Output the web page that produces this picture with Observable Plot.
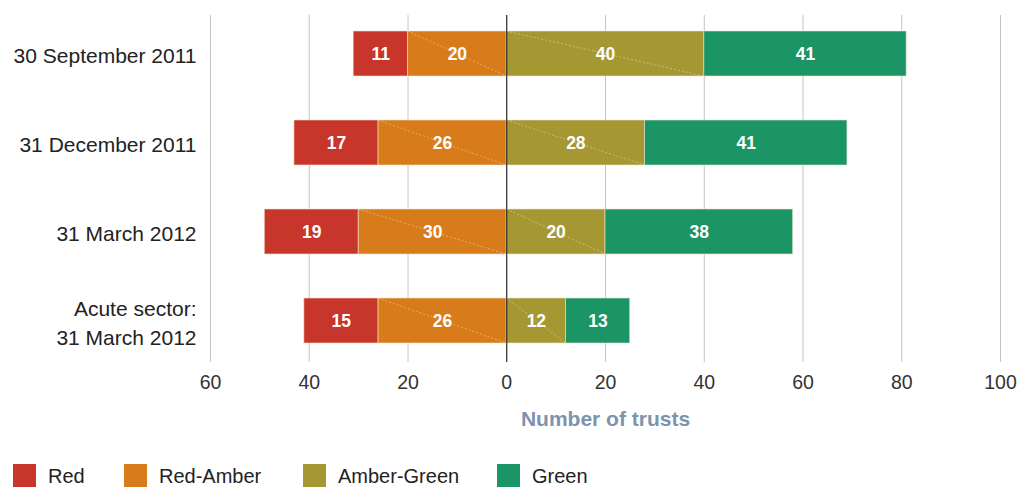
<!DOCTYPE html>
<html>
<head>
<meta charset="utf-8">
<script src="https://cdn.jsdelivr.net/npm/d3@7"></script>
<script src="https://cdn.jsdelivr.net/npm/@observablehq/plot@0.6"></script>
<style>
  html, body { margin: 0; padding: 0; background: #fff; }
  body { font-family: "Liberation Sans", Arial, sans-serif; }
  #wrap { position: relative; width: 1018px; height: 487px; overflow: hidden; }
  #chart { position: absolute; left: 0; top: 0; }
  .lg-sw { position: absolute; width: 23px; height: 23px; }
  .lg-tx { position: absolute; font-size: 20px; color: #222; line-height: 23px; white-space: nowrap; }
</style>
</head>
<body>
<div id="wrap">
  <div id="chart"></div>
  <div id="legend"></div>
</div>
<script>
const periods = ["30 September 2011", "31 December 2011", "31 March 2012", "Acute sector:\n31 March 2012"];
const statuses = ["Red", "Red-Amber", "Amber-Green", "Green"];
const colors = ["#c8352b", "#d77b1b", "#a59731", "#1c9566"];
const red = [11, 17, 19, 15];
const redAmber = [20, 26, 30, 26];
const amberGreen = [40, 28, 20, 12];
const green = [41, 41, 38, 13];
const xTicks = [-60, -40, -20, 0, 20, 40, 60, 80, 100];
const axisTitle = "Number of trusts";

// diverging stack: Red-Amber and Red to the left of zero, Amber-Green and Green to the right
const segments = [];
periods.forEach((p, i) => {
  segments.push({period: p, status: "Red-Amber", value: redAmber[i], x1: -redAmber[i], x2: 0});
  segments.push({period: p, status: "Red", value: red[i], x1: -redAmber[i] - red[i], x2: -redAmber[i]});
  segments.push({period: p, status: "Amber-Green", value: amberGreen[i], x1: 0, x2: amberGreen[i]});
  segments.push({period: p, status: "Green", value: green[i], x1: amberGreen[i], x2: amberGreen[i] + green[i]});
});

const diagSegs = segments.filter(d => d.status === "Red-Amber" || d.status === "Amber-Green");

const diagonals = (index, scales) => {
  const g = d3.create("svg:g");
  const bw = scales.y.bandwidth();
  for (const d of diagSegs) {
    g.append("line")
      .attr("x1", scales.x(d.x1)).attr("y1", scales.y(d.period))
      .attr("x2", scales.x(d.x2)).attr("y2", scales.y(d.period) + bw)
      .attr("stroke", "#ffffff").attr("stroke-opacity", 0.45)
      .attr("stroke-width", 0.8).attr("stroke-dasharray", "2,2");
  }
  return g.node();
};

const chart = Plot.plot({
  width: 1018,
  height: 440,
  marginTop: 15,
  marginBottom: 78,
  marginLeft: 210,
  marginRight: 18,
  style: {fontFamily: "'Liberation Sans', Arial, sans-serif", fontSize: "18px", color: "#333", background: "white"},
  x: {domain: [-60, 100], label: null},
  y: {domain: periods, paddingInner: 0.5, paddingOuter: 0.178, align: 0.45, label: null},
  color: {domain: statuses, range: colors},
  marks: [
    Plot.gridX(xTicks, {stroke: "#c4c4c4", strokeOpacity: 1, strokeWidth: 1}),
    Plot.axisX({ticks: xTicks, tickFormat: d => Math.abs(d), tickSize: 0, tickPadding: 13, fontSize: 19.5, fill: "#333", label: null}),
    Plot.axisY({tickSize: 0, tickPadding: 14, fontSize: 21, fill: "#222", lineHeight: 1.4, label: null}),
    Plot.barX(segments, {x1: "x1", x2: "x2", y: "period", fill: "status", stroke: "#f3e3c8", strokeWidth: 1, strokeOpacity: 0.6}),
    diagonals,
    Plot.ruleX([0], {stroke: "#111", strokeWidth: 1}),
    Plot.text(segments, {x: d => (d.x1 + d.x2) / 2, y: "period", text: d => String(d.value), fill: "white", fontSize: 17.5, fontWeight: "bold"}),
    Plot.text([axisTitle], {frameAnchor: "bottom", dy: 63, fill: "#7d93ad", fontSize: 21, fontWeight: "bold"})
  ]
});
document.getElementById("chart").appendChild(chart);

// legend
const legendSwatchX = [13, 124, 303, 497];
const legend = document.getElementById("legend");
statuses.forEach((s, i) => {
  const sw = document.createElement("div");
  sw.className = "lg-sw";
  sw.style.left = legendSwatchX[i] + "px";
  sw.style.top = "464px";
  sw.style.background = colors[i];
  legend.appendChild(sw);
  const tx = document.createElement("div");
  tx.className = "lg-tx";
  tx.style.left = (legendSwatchX[i] + 35) + "px";
  tx.style.top = "465px";
  tx.textContent = s;
  legend.appendChild(tx);
});
</script>
</body>
</html>
